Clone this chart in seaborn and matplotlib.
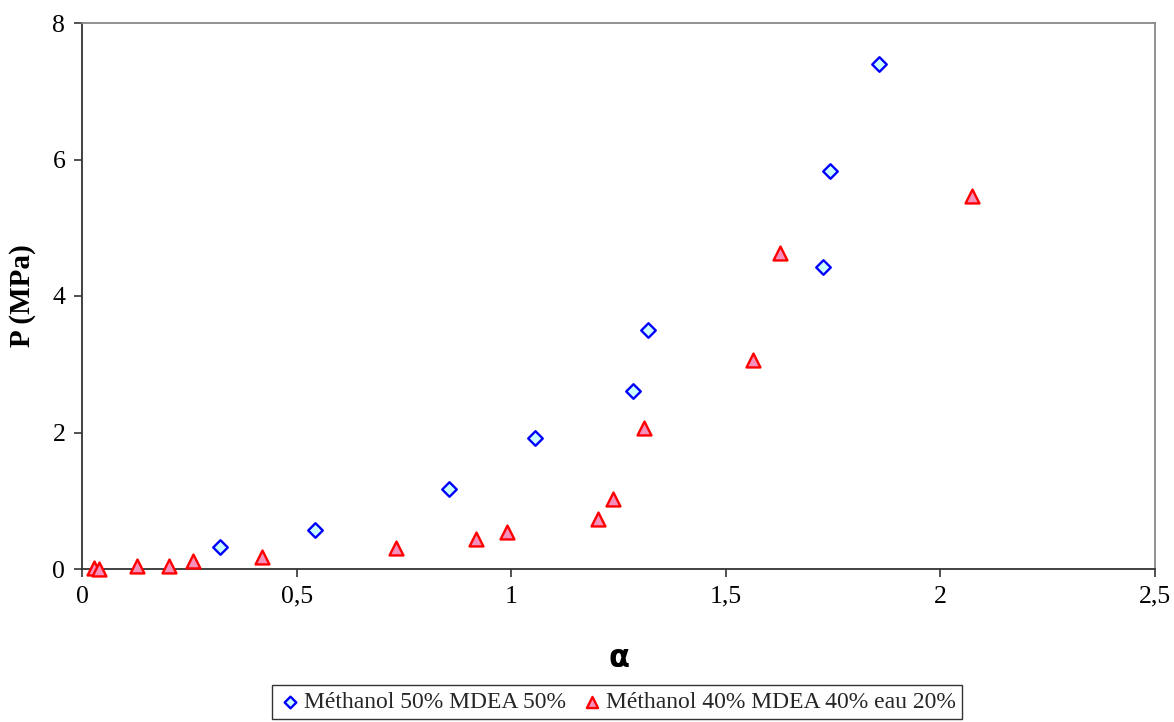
import matplotlib
matplotlib.use("Agg")
import matplotlib.pyplot as plt
import seaborn as sns
import pandas as pd

# Data
alpha_s1 = [0.322, 0.543, 0.855, 1.055, 1.284, 1.319, 1.727, 1.743, 1.857]
p_s1 = [0.32, 0.57, 1.17, 1.92, 2.61, 3.50, 4.42, 5.83, 7.40]
alpha_s2 = [0.028, 0.040, 0.128, 0.202, 0.258, 0.420, 0.731, 0.919, 0.990,
            1.202, 1.237, 1.309, 1.563, 1.626, 2.074]
p_s2 = [0.02, 0.00, 0.04, 0.05, 0.12, 0.17, 0.31, 0.44, 0.54,
        0.73, 1.03, 2.06, 3.06, 4.63, 5.47]
label_s1 = "Méthanol 50% MDEA 50%"
label_s2 = "Méthanol 40% MDEA 40% eau 20%"
xticks = [0, 0.5, 1, 1.5, 2, 2.5]
xtick_labels = ["0", "0,5", "1", "1,5", "2", "2,5"]
yticks = [0, 2, 4, 6, 8]

sns.set_style("white")
plt.rcParams['font.family'] = ['Liberation Serif', 'DejaVu Serif']

fig = plt.figure(figsize=(11.74, 7.22), dpi=100)
ax = fig.add_axes([82/1174, 1 - 569/722, (1155-82)/1174, (569-23)/722])

df1 = pd.DataFrame({"x": alpha_s1, "y": p_s1})
df2 = pd.DataFrame({"x": alpha_s2, "y": p_s2})

sns.scatterplot(data=df1, x="x", y="y", ax=ax, marker="D", s=55,
                color="#CCFFFF", edgecolor="#0000FF", linewidth=1.7,
                label=label_s1, zorder=3, clip_on=False)
sns.scatterplot(data=df2, x="x", y="y", ax=ax, marker="^", s=100,
                color="#F590BC", edgecolor="#FF0000", linewidth=1.7,
                label=label_s2, zorder=3, clip_on=False)

ax.set_xlim(0, 2.5)
ax.set_ylim(0, 8)
ax.set_xticks(xticks)
ax.set_xticklabels(xtick_labels)
ax.set_yticks(yticks)

ax.tick_params(axis='both', which='major', labelsize=18.5, length=6,
               width=1.2, color="#333333", labelcolor="black",
               direction='out', pad=6, bottom=True, left=True)

for side in ["left", "bottom"]:
    ax.spines[side].set_color("#333333")
    ax.spines[side].set_linewidth(1.3)
for side in ["top", "right"]:
    ax.spines[side].set_color("#888888")
    ax.spines[side].set_linewidth(1.3)

ax.set_xlabel("α", fontsize=22, fontweight="bold", family=['DejaVu Sans'],
              labelpad=26, color="black")
ax.set_ylabel("P (MPa)", fontsize=21, fontweight="bold", labelpad=12,
              color="black")

leg = ax.legend(loc="center", bbox_to_anchor=(617/1174, 1 - 702/722),
                bbox_transform=fig.transFigure, ncol=2, frameon=True,
                fancybox=False, edgecolor="black", fontsize=17,
                handletextpad=0.1, columnspacing=0.6, borderpad=0.25,
                handlelength=1.0, borderaxespad=0, markerscale=0.8)
leg.get_frame().set_linewidth(1.0)

fig.savefig("out.png", dpi=100, facecolor="white")
